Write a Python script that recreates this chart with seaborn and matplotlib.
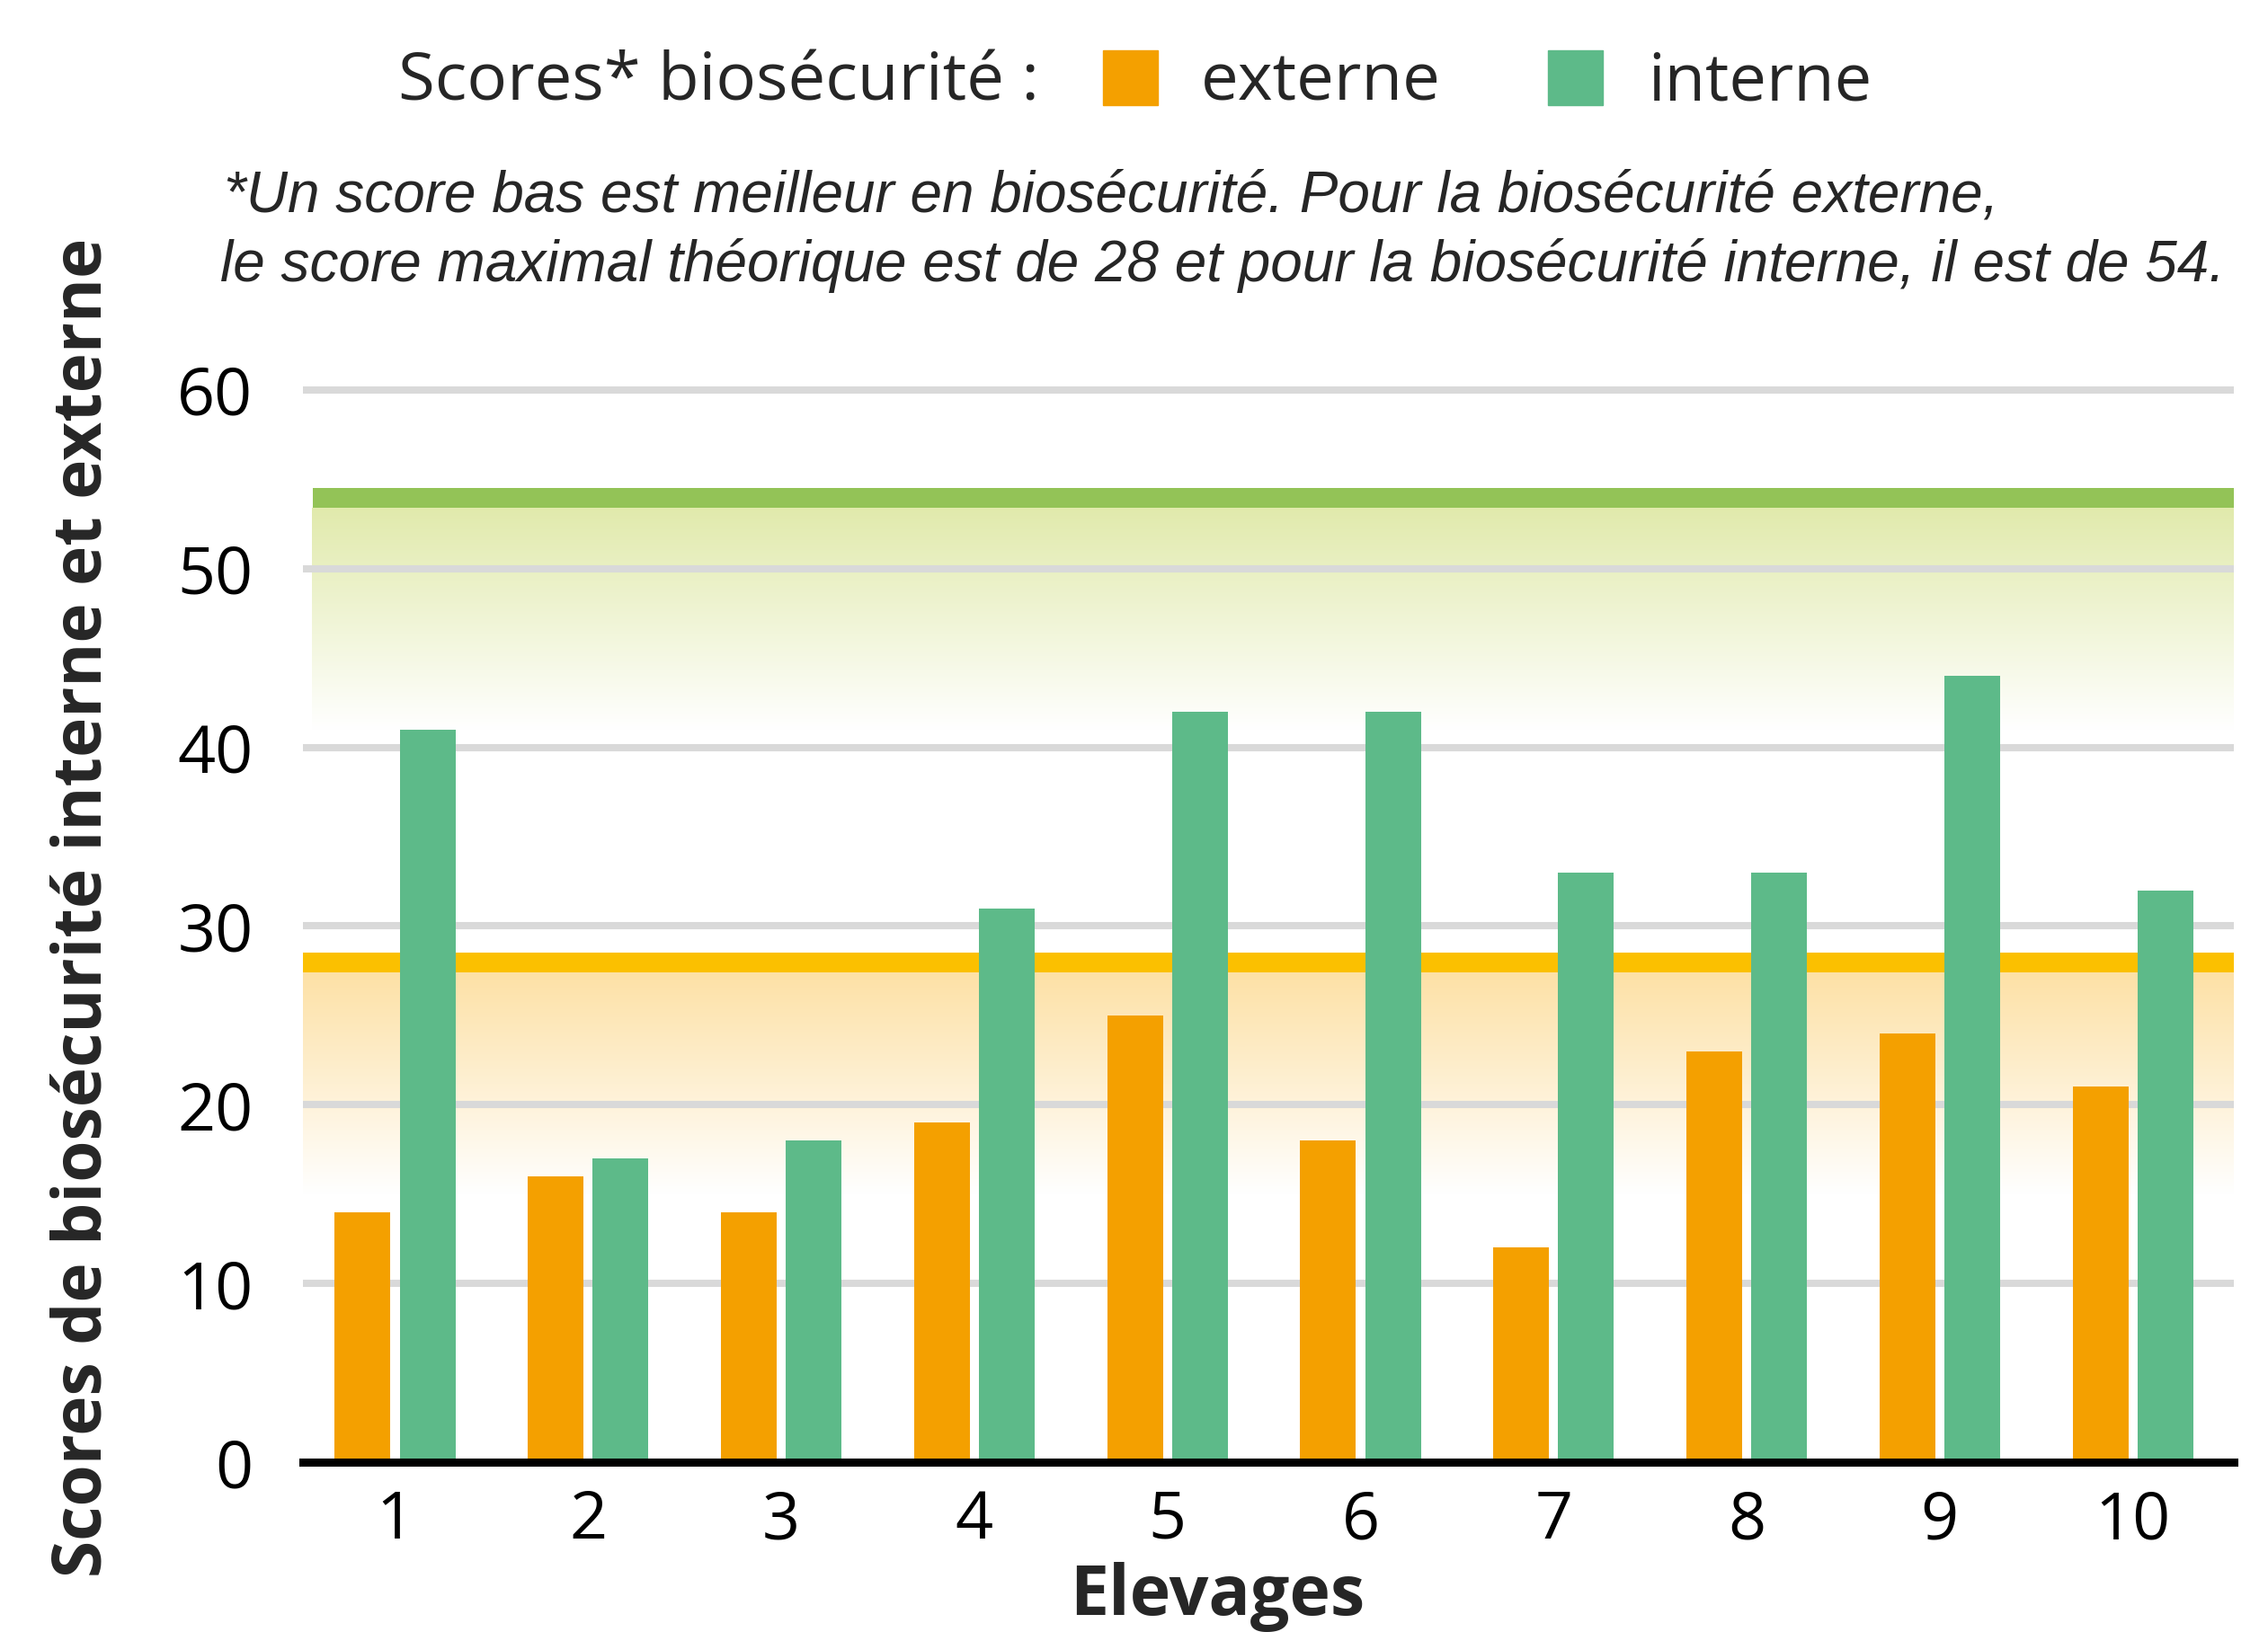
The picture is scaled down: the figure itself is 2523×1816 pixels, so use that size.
import numpy as np
import pandas as pd
import matplotlib
matplotlib.use('Agg')
import matplotlib.pyplot as plt
import seaborn as sns
from matplotlib.colors import LinearSegmentedColormap
from matplotlib.patches import Rectangle

# Données
elevages = ['1', '2', '3', '4', '5', '6', '7', '8', '9', '10']
externe = [14, 16, 14, 19, 25, 18, 12, 23, 24, 21]
interne = [41, 17, 18, 31, 42, 42, 33, 33, 44, 32]
max_externe = 28
max_interne = 54
y_ticks = [0, 10, 20, 30, 40, 50, 60]

df = pd.DataFrame({
    'Elevage': elevages * 2,
    'Score': externe + interne,
    'Type': ['externe'] * len(elevages) + ['interne'] * len(elevages),
})

c_ext = '#F4A000'
c_int = '#5DBA89'

sns.set_theme(style='white')
plt.rcParams['font.family'] = ['Open Sans', 'DejaVu Sans']

W, H = 2523, 1816
fig = plt.figure(figsize=(W / 100, H / 100), dpi=100)
ax = fig.add_axes([337 / W, (H - 1627) / H, (2485 - 337) / W, 1213 / H])

sns.barplot(data=df, x='Elevage', y='Score', hue='Type',
            palette={'externe': c_ext, 'interne': c_int},
            width=0.672, gap=0.14, saturation=1, linewidth=0,
            legend=False, ax=ax, zorder=3)

# zones en dégradé sous les scores maximaux
grad = np.linspace(0, 1, 256).reshape(-1, 1)
cmap_g = LinearSegmentedColormap.from_list('g', ['white', '#E1EAAC'])
cmap_o = LinearSegmentedColormap.from_list('o', ['white', '#FDE1A6'])
ax.imshow(grad, cmap=cmap_g, origin='lower', aspect='auto',
          extent=[-0.43, 9.6, 41, max_interne - 0.6], zorder=0.1)
ax.imshow(grad, cmap=cmap_o, origin='lower', aspect='auto',
          extent=[-0.48, 9.6, 15, max_externe - 0.6], zorder=0.1)
ax.axhspan(max_interne - 0.6, max_interne + 0.5, xmin=0.005, color='#93C357', lw=0, zorder=2)
ax.axhspan(max_externe - 0.6, max_externe + 0.5, color='#FBC000', lw=0, zorder=2)

ax.set_xlim(-0.477, 9.523)
ax.set_ylim(0, 61)
ax.set_yticks(y_ticks)
ax.set_axisbelow(True)
ax.yaxis.grid(True, color='#D9D9D9', lw=5.8)
ax.xaxis.grid(False)
for s in ['left', 'top', 'right']:
    ax.spines[s].set_visible(False)
ax.spines['bottom'].set_color('black')
ax.spines['bottom'].set_linewidth(6.5)
ax.spines['bottom'].set_zorder(5)
ax.tick_params(axis='both', length=0, labelsize=53, colors='black')
ax.tick_params(axis='y', pad=40)
ax.tick_params(axis='x', pad=21)
ax.set_xlabel('')
ax.set_ylabel('')

renderer = fig.canvas.get_renderer()


def fit(t, target):
    bb = t.get_window_extent(renderer)
    w = max(bb.width, bb.height)
    t.set_fontsize(t.get_fontsize() * target / w)


def fy(y):
    return 1 - y / H


# légende
t = fig.text(443 / W, fy(112), 'Scores* biosécurité :', fontsize=60, va='baseline')
fit(t, 712)
t = fig.text(1336 / W, fy(112), 'externe', fontsize=60, va='baseline')
fit(t, 267)
t = fig.text(1833 / W, fy(112), 'interne', fontsize=60, va='baseline')
fit(t, 249)
fig.patches.append(Rectangle((1227 / W, fy(117)), 61 / W, 61 / H,
                             transform=fig.transFigure, color=c_ext))
fig.patches.append(Rectangle((1722 / W, fy(117)), 61 / W, 61 / H,
                             transform=fig.transFigure, color=c_int))

# note
n2 = fig.text(245 / W, fy(313),
              'le score maximal théorique est de 28 et pour la biosécurité interne, il est de 54.',
              fontsize=44, style='italic', family='Liberation Sans', va='baseline')
fit(n2, 2233)
fig.text(249 / W, fy(236),
         '*Un score bas est meilleur en biosécurité. Pour la biosécurité externe,',
         fontsize=n2.get_fontsize(), style='italic', family='Liberation Sans', va='baseline')

# titres des axes
t = fig.text(1354 / W, fy(1797), 'Elevages', fontsize=60, fontweight='bold',
             ha='center', va='baseline')
fit(t, 328)
t = fig.text(113 / W, fy(1010), 'Scores de biosécurité interne et externe', fontsize=60,
             fontweight='bold', rotation=90, rotation_mode='anchor',
             ha='center', va='baseline')
fit(t, 1490)

fig.savefig('out.png', dpi=100)
